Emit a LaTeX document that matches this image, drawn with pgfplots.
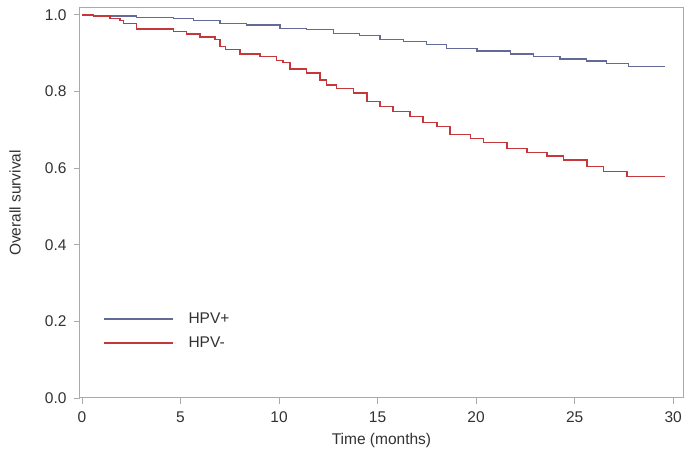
\documentclass[border=0pt]{standalone}
\usepackage{pgfplots}
\pgfplotsset{compat=1.18}
\usepackage{fontspec}
\setmainfont{Liberation Sans}
\definecolor{hpvpos}{RGB}{100,106,150}
\definecolor{hpvneg}{RGB}{196,56,60}
\definecolor{framegray}{RGB}{170,170,170}
\definecolor{textgray}{RGB}{50,50,50}
\begin{document}
\begin{tikzpicture}
\path[use as bounding box] (-80pt,-59pt) rectangle (605pt,398pt);
\begin{axis}[
  at={(0pt,0pt)}, anchor=south west,
  scale only axis, width=603pt, height=390pt,
  xmin=-0.1, xmax=30.5, ymin=0, ymax=1.018,
  xtick={0,5,10,15,20,25,30},
  ytick={0,0.2,0.4,0.6,0.8,1.0},
  xtick pos=bottom, ytick pos=left,
  tick align=outside, major tick length=6pt,
  every tick/.style={framegray, line width=0.8pt},
  axis line style={framegray, line width=1pt},
  font=\fontsize{15.5}{18}\selectfont,
  tick label style={textgray, font=\fontsize{15.5}{18}\selectfont},
  /pgf/number format/assume math mode=true,
  yticklabel style={xshift=-4pt, /pgf/number format/.cd, fixed, fixed zerofill, precision=1},
  xticklabel style={yshift=-4pt, /pgf/number format/.cd, fixed, precision=0},
  xlabel={Time (months)},
  ylabel={Overall survival},
  every axis x label/.style={at={([yshift=-42pt]axis description cs:0.5,0)}, anchor=center, textgray},
  every axis y label/.style={at={([xshift=-65pt]axis description cs:0,0.5)}, anchor=center, rotate=90, textgray},
  legend style={at={(axis cs:1.07,0.175)}, anchor=west, draw=none, fill=none,
    font=\fontsize{15.5}{18}\selectfont, text=textgray, inner sep=0pt,
    row sep=10pt, column sep=14pt, nodes={inner sep=1pt}},
  legend cell align=left,
  legend image code/.code={\draw[#1] (0pt,0pt) -- (69pt,0pt);},
]
\addplot[const plot, hpvpos, line width=1.3pt] coordinates {
(0,1.0) (0.57,0.997) (2.78,0.994) (4.64,0.990) (5.65,0.985) (7.0,0.978)
(8.36,0.974) (10.05,0.965) (11.4,0.961) (12.76,0.952) (14.1,0.946)
(15.13,0.936) (16.31,0.931) (17.5,0.923) (18.51,0.913) (20.04,0.906)
(21.73,0.898) (22.91,0.891) (24.26,0.885) (25.62,0.880) (26.63,0.874)
(27.73,0.865) (29.6,0.865)
};
\addlegendentry{HPV+}
\addplot[const plot, hpvneg, line width=1.3pt] coordinates {
(0,1.0) (0.57,0.997) (1.42,0.991) (1.93,0.985) (2.1,0.977) (2.78,0.963)
(4.64,0.956) (5.31,0.950) (5.99,0.942) (6.75,0.935) (7.0,0.918) (7.3,0.910)
(8.02,0.898) (9.04,0.891) (9.88,0.881) (10.2,0.875) (10.56,0.859)
(11.4,0.848) (12.08,0.830) (12.4,0.817) (12.93,0.807) (13.77,0.796)
(14.47,0.774) (15.13,0.761) (15.79,0.748) (16.65,0.734) (17.31,0.719)
(18.02,0.708) (18.68,0.688) (19.70,0.678) (20.36,0.667) (21.57,0.652)
(22.59,0.641) (23.60,0.632) (24.42,0.621) (25.63,0.604) (26.45,0.591)
(27.66,0.578) (29.59,0.578)
};
\addlegendentry{HPV-}
\end{axis}
\end{tikzpicture}
\end{document}
